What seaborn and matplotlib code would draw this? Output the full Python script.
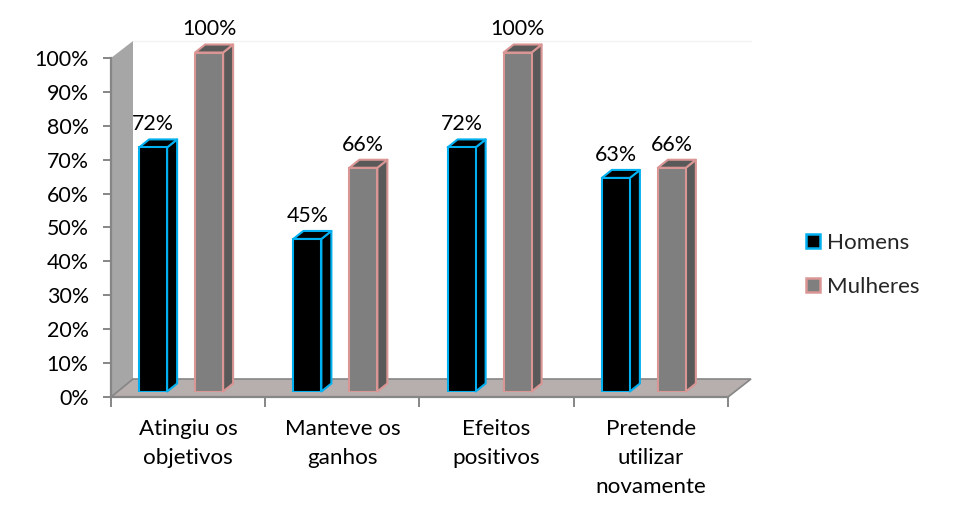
import matplotlib
matplotlib.use("Agg")
import matplotlib.pyplot as plt
from matplotlib.patches import Polygon
from matplotlib.lines import Line2D
import pandas as pd
import seaborn as sns

categories = ["Atingiu os\nobjetivos", "Manteve os\nganhos", "Efeitos\npositivos", "Pretende\nutilizar\nnovamente"]
homens = [0.72, 0.45, 0.72, 0.63]
mulheres = [1.00, 0.66, 1.00, 0.66]
series_names = ["Homens", "Mulheres"]
y_ticks = [0, .1, .2, .3, .4, .5, .6, .7, .8, .9, 1.0]
y_labels = ["0%", "10%", "20%", "30%", "40%", "50%", "60%", "70%", "80%", "90%", "100%"]

W, H = 954, 522
sns.set_theme(style="white")
plt.rcParams["font.family"] = ["Lato", "DejaVu Sans"]
FS_NUM = 15.4
FS_TXT = 16.1
AX = "#868686"

df = pd.DataFrame({
    "cat": categories * 2,
    "val": homens + mulheres,
    "serie": [series_names[0]] * 4 + [series_names[1]] * 4,
})

fig = plt.figure(figsize=(W / 100, H / 100), dpi=100, facecolor="white")

def rect(l, r, top, bottom):
    return [l / W, 1 - bottom / H, (r - l) / W, (bottom - top) / H]

def px(points):
    return [(x / W, 1 - y / H) for x, y in points]

# walls of the 3D box, in pixel positions
fig.add_artist(Polygon(px([(111, 397), (133, 379), (133, 41), (111, 58)]), closed=True,
                       transform=fig.transFigure, fc="#a6a6a6", ec="none", zorder=-2))
fig.add_artist(Polygon(px([(111, 397), (133, 379), (751, 379), (728, 397)]), closed=True,
                       transform=fig.transFigure, fc="#b7aeae", ec=AX, lw=1.2, zorder=-2))
fig.add_artist(Line2D([133 / W, 751 / W], [1 - 41 / H] * 2, transform=fig.transFigure,
                      color="#f2f2f2", lw=1, zorder=-2))

# scale axes (ticks and labels)
axs = fig.add_axes(rect(111, 728, 58, 397), facecolor="none", zorder=1)
axs.set_xlim(-0.5, 3.5)
axs.set_ylim(0, 1)
axs.set_yticks(y_ticks, y_labels, fontsize=FS_NUM, color="black")
axs.set_xticks([-0.5, 0.5, 1.5, 2.5, 3.5], [""] * 5)
axs.set_xticks([0, 1, 2, 3], categories, minor=True, fontsize=FS_TXT, color="black", linespacing=1.57)
axs.tick_params(axis="x", which="major", length=7, width=1.4, color=AX, bottom=True)
axs.tick_params(axis="x", which="minor", length=0, pad=16, bottom=True)
axs.tick_params(axis="y", length=6, width=1.4, color=AX, pad=10, left=True)
for s in ["top", "right"]:
    axs.spines[s].set_visible(False)
for s in ["left", "bottom"]:
    axs.spines[s].set_color(AX)
    axs.spines[s].set_linewidth(1.6)

# front plane of the bars
ax = fig.add_axes(rect(104, 721, 52.5, 391.5), facecolor="none", zorder=2)
sns.barplot(data=df, x="cat", y="val", hue="serie", hue_order=series_names,
            palette=["#000000", "#7f7f7f"], saturation=1, width=0.726, gap=0.5,
            ax=ax, legend=False, zorder=3)
ax.set_xlim(-0.5, 3.5)
ax.set_ylim(0, 1)
ax.axis("off")

edges = ["#00b0f0", "#d99694"]
tops = ["#000000", "#595959"]
dx, dy = 10, 8
for cont, ec, tc in zip(ax.containers, edges, tops):
    for b in cont:
        x0, w, h = b.get_x(), b.get_width(), b.get_height()
        b.set_edgecolor(ec)
        b.set_linewidth(1.5)
        p0 = ax.transData.transform([(x0, 0), (x0 + w, 0), (x0, h), (x0 + w, h)])
        (xl, yb), (xr, _), _, (_, yt) = p0
        side = [(xr, yb), (xr + dx, yb + dy), (xr + dx, yt + dy), (xr, yt)]
        top = [(xl, yt), (xr, yt), (xr + dx, yt + dy), (xl + dx, yt + dy)]
        for pts in (side, top):
            ax.add_patch(Polygon(pts, closed=True, transform=None, fc=tc, ec=ec, lw=1.5,
                                 joinstyle="round", zorder=2.5, clip_on=False))
    ax.bar_label(cont, labels=[f"{v * 100:.0f}%" for v in cont.datavalues], padding=9.5,
                 fontsize=FS_NUM, color="black")

handles = [Polygon([(0, 0)], closed=True, fc=c, ec=e, lw=1.8)
           for c, e in zip(["#000000", "#7f7f7f"], edges)]
fig.legend(handles, series_names, loc="upper left", bbox_to_anchor=(806 / W, 1 - 233 / H),
           frameon=False, fontsize=FS_TXT, handlelength=0.62, handleheight=0.62, handletextpad=0.3,
           labelspacing=1.07, borderpad=0, borderaxespad=0)

fig.savefig("out.png", dpi=100, facecolor="white")
